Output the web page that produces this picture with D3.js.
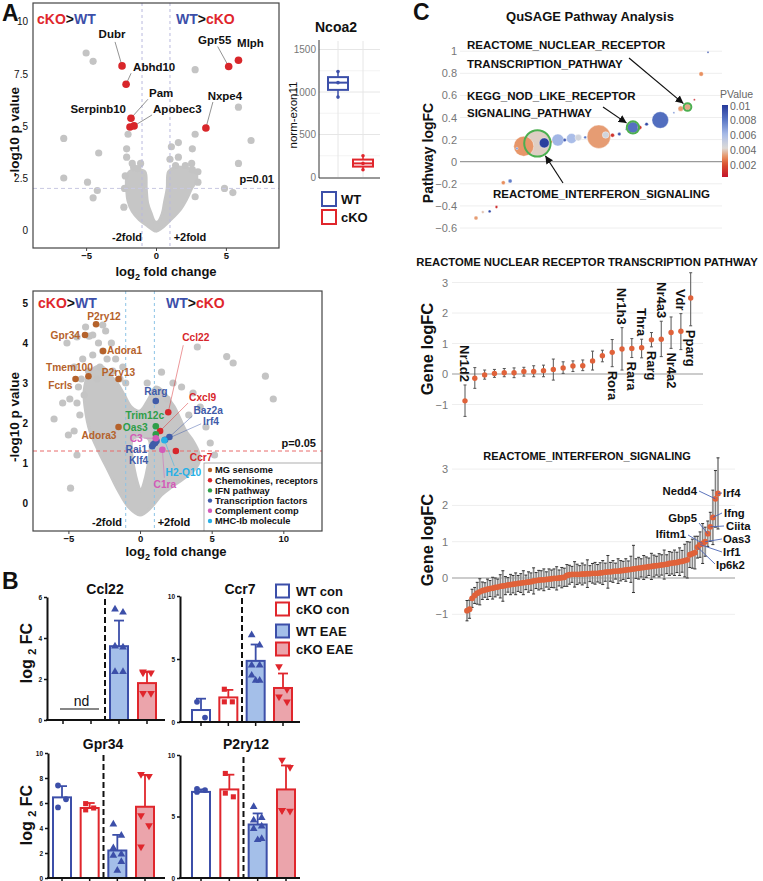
<!DOCTYPE html>
<html>
<head>
<meta charset="utf-8">
<script src="https://cdn.jsdelivr.net/npm/d3@7/dist/d3.min.js"></script>
<style>
html,body{margin:0;padding:0;background:#fff;}
svg text{font-family:"Liberation Sans",Arial,Helvetica,sans-serif;}
</style>
</head>
<body>
<svg id="fig" width="763" height="881" xmlns="http://www.w3.org/2000/svg"></svg>
<script>
// ================= DATA =================
// Panel A (top) volcano: cKO vs WT
const topHitGenes = ['Dubr','Abhd10','Pam','Serpinb10','Apobec3','Gpr55','Mlph','Nxpe4'];
const topHitLFC   = [-2.43,-2.14,-1.79,-1.86,-1.57,5.2,5.9,3.57];
const topHitP     = [7.88,7.0,5.37,4.95,5.0,7.85,8.15,4.9];
const topScatter = [[-5.0,8.5],[-4.5,8.1],[2.8,7.7],[5.9,5.9],[-6.6,4.4],[-4.1,3.7],[-6.6,2.5],[-4.9,2.3],[-4.2,1.9],[-4.5,1.55],[-2.3,1.1],[6.8,4.3],[5.9,3.2],[5.5,1.8],[4.9,2.0],[2.8,4.6],[2.6,3.9],[1.6,4.2],[1.1,4.0],[-2.0,4.6],[-2.1,3.9],[-2.1,3.5],[-1.1,3.2],[-1.7,3.2],[1.0,3.4],[1.6,3.5],[3.0,2.8],[2.6,2.9],[2.55,3.2],[-1.6,3.0],[-2.2,2.6],[-2.25,2.0],[3.0,2.3],[2.8,1.6],[-1.3,2.95],[1.4,3.1],[2.1,3.1]];
const topCloud = [[0,-0.05],[-0.6,0.2],[-1.2,0.5],[-1.7,0.9],[-2.0,1.4],[-2.1,2.0],[-2.1,2.5],[-1.9,2.8],[-1.3,2.9],[-0.8,2.8],[-0.7,2.0],[-0.6,1.3],[-0.35,0.8],[-0.08,0.4],[0.15,0.4],[0.45,0.8],[0.6,1.3],[0.8,2.0],[0.9,2.8],[1.3,3.0],[2.0,3.0],[2.8,2.8],[2.9,2.4],[2.55,2.0],[2.2,1.5],[1.75,1.0],[1.05,0.5],[0.4,0.1]];
const topXTicks = [-5,0,5];
const topYTicks = [0,2.5,5,7.5,10];

// Ncoa2 box plot
const ncoaGroups = ['WT','cKO'];
const ncoaWT = [1240,1110,940];
const ncoaKO = [250,160,85];
const ncoaTicks = [0,500,1000,1500];

// Panel A (bottom) volcano
const botCategories = ['MG sensome','Chemokines, receptors','IFN pathway','Transcription factors','Complement comp','MHC-Ib molecule'];
const botHitGenes = ['P2ry12','Gpr34','Adora1','Tmem100','P2ry13','Fcrls','Adora3','Ccl22','Cxcl9','Ccr7','Trim12c','Oas3','Rarg','Baz2a','Irf4','Rai1','Klf4','','','C3','C1ra','H2-Q10'];
const botHitLFC = [-3.07,-3.84,-2.58,-3.6,-1.5,-4.5,-1.5,1.97,1.4,2.5,1.1,1.1,1.1,2.05,1.75,1.05,0.85,0.93,1.15,1.1,1.56,1.7];
const botHitP   = [4.47,4.2,3.8,3.17,3.1,3.1,1.9,2.27,1.8,1.3,1.92,1.72,2.55,1.65,1.58,1.5,1.42,1.47,1.55,1.62,1.33,1.57];
const botHitCat = [0,0,0,0,0,0,0,1,1,1,2,2,3,3,3,3,3,3,3,4,4,5];
const botScatter = [[-5.1,4.0],[-4.4,4.15],[-3.55,4.17],[-2.9,4.0],[-6.0,2.1],[-4.85,0.37],[-4.9,2.6],[-4.6,3.4],[-4.3,2.9],[-4.0,3.6],[-3.3,3.7],[-2.4,4.3],[-2.0,4.0],[-1.7,3.6],[-1.2,3.4],[-3.8,4.4],[-2.8,3.4],[6.05,3.66],[6.5,3.5],[8.75,3.17],[9.3,2.6],[4.0,3.9],[1.5,3.27],[3.7,2.75],[2.9,2.9],[4.2,2.4],[3.4,2.2],[4.6,1.9],[-4.2,2.2],[-4.6,1.8],[-1.0,3.0],[0.5,3.0],[2.3,3.0],[1.9,2.6],[-5.4,2.5],[-4.4,2.5],[-3.3,4.2],[-2.6,4.45],[4.9,1.5],[5.2,1.2],[-4.4,1.2],[-5.0,1.7],[-3.6,3.3],[-3.0,3.1],[-2.3,3.6],[-1.9,3.3],[-4.1,3.1],[-3.9,2.7],[-2.6,3.8],[-1.4,3.1]];
const botCloud = [[0,-0.3],[-0.8,-0.1],[-1.5,0.3],[-2.2,0.8],[-2.9,1.3],[-3.5,1.8],[-3.8,2.3],[-3.9,2.8],[-3.6,3.2],[-3.1,3.4],[-2.6,3.4],[-2.1,3.2],[-1.6,3.0],[-1.1,2.7],[-0.6,2.4],[0.0,2.3],[0.6,2.6],[1.1,2.9],[1.6,2.8],[2.0,2.6],[2.4,2.4],[2.8,2.1],[3.2,1.8],[3.7,1.55],[4.1,1.25],[4.1,1.0],[3.7,0.8],[3.0,0.6],[2.2,0.4],[1.5,0.2],[0.8,-0.1]];
const botHole = [[0.05,0.3],[-0.5,1.6],[0.6,1.6]];
const botXTicks = [-5,0,5,10];
const botYTicks = [0,1,2,3,4,5];

// Panel B bar charts
const bGroups = ['WT con','cKO con','WT EAE','cKO EAE'];
const ccl22Mean = [null,null,3.6,1.8];
const ccl22SD   = [null,null,1.25,0.55];
const ccl22Pts  = [[],[],[5.4,5.25,3.6,3.55,2.35,2.35],[2.35,2.3,2.3,1.3,1.3]];
const ccr7Mean = [0.95,1.95,4.85,2.7];
const ccr7SD   = [0.9,0.6,1.3,1.15];
const ccr7Pts  = [[1.6,0.35],[2.6,1.6,1.6],[6.9,6.1,4.5,4.5,3.7,3.3,3.3],[4.4,2.6,2.0,1.6]];
const gpr34Mean = [6.45,5.6,2.2,5.7];
const gpr34SD   = [0.9,0.4,1.25,2.55];
const gpr34Pts  = [[7.4,6.3,5.65],[5.95,5.6,5.45],[4.3,3.4,2.4,1.9,1.8,1.3,0.6],[8.3,8.15,5.0,4.2,2.5]];
const p2ry12Mean = [7.0,7.2,4.35,7.2];
const p2ry12SD   = [0.2,1.2,0.9,1.95];
const p2ry12Pts  = [[7.25,7.15,7.0],[8.5,6.6,6.9],[5.8,4.9,4.7,4.2,4.0,3.2,3.1],[9.6,9.0,5.5,5.45,5.5]];

// Panel C: QuSAGE pathway bubbles
const pwRank  = [0,1,2,3,4,5,6,7,9,10,11,12,13,14,15,16,18,19,20,21,22,23,24,25,27,29,30,31,32,33,34];
const pwLogFC = [-0.51,-0.456,-0.45,-0.41,-0.19,-0.175,0.12,0.14,0.166,0.17,0.18,0.196,0.196,0.21,0.218,0.22,0.226,0.242,0.24,0.25,0.293,0.31,0.31,0.34,0.377,0.444,0.48,0.495,0.56,0.794,0.99];
const pwP     = [0.0032,0.0038,0.0095,0.001,0.003,0.0078,0.007,0.0031,0.004,0.0098,0.003,0.0062,0.0088,0.006,0.0046,0.008,0.0032,0.0046,0.0012,0.009,0.0072,0.0082,0.0012,0.0095,0.0083,0.007,0.0032,0.0034,0.0008,0.003,0.009];
const pwSize  = [4,2,2,2,4,4,1.5,100,161,25,2,36,3,25,11,2,137,11,4,3,1,32,4,3,69,1,7,11,1,5,1];
const pwHighlight = [8,21,27];
const pwTicks = [-0.6,-0.4,-0.2,0,0.2,0.4,0.6,0.8,1];
const pvTicks = [0.01,0.008,0.006,0.004,0.002];

// Nuclear receptor pathway genes
const nrLabels = ['Nr1d2','','','','','','','','','','','','','','','Rora','Nr1h3','Rara','Thra','Rarg','Nr4a3','Nr4a2','Vdr','Pparg'];
const nrFC = [-0.88,-0.14,-0.03,0.02,0.04,0.04,0.08,0.08,0.11,0.15,0.20,0.26,0.27,0.43,0.60,0.71,0.82,0.84,0.86,1.12,1.14,1.36,1.40,2.49];
const nrLo = [-1.39,-0.47,-0.17,-0.11,-0.09,-0.12,-0.07,-0.09,-0.09,-0.20,0.02,0.08,0.11,0.13,0.40,0.24,0.13,0.54,0.53,0.89,0.57,0.84,0.80,1.58];
const nrHi = [-0.36,0.21,0.13,0.15,0.18,0.20,0.22,0.27,0.29,0.49,0.40,0.43,0.46,0.75,0.78,1.13,1.52,1.16,1.14,1.36,1.73,1.87,1.98,3.32];
const nrSide = ['above','','','','','','','','','','','','','','','below','above','below','above','below','above','below','above','below'];
const nrTicks = [-1,0,1,2,3];

// Interferon signaling genes
const ifnFC = [
-0.90,-0.86,-0.56,-0.48,-0.42,-0.38,-0.35,-0.33,-0.31,-0.29,
-0.28,-0.26,-0.25,-0.23,-0.22,-0.21,-0.19,-0.18,-0.17,-0.16,
-0.15,-0.14,-0.13,-0.12,-0.11,-0.10,-0.08,-0.07,-0.06,-0.05,
-0.05,-0.04,-0.03,-0.02,-0.01,-0.01,0.00,0.01,0.02,0.07,
0.09,0.10,0.10,0.10,0.10,0.11,0.11,0.12,0.12,0.13,
0.13,0.13,0.14,0.15,0.16,0.17,0.17,0.18,0.19,0.19,
0.20,0.21,0.22,0.23,0.24,0.25,0.26,0.27,0.28,0.29,
0.30,0.31,0.32,0.33,0.34,0.35,0.36,0.37,0.38,0.40,
0.41,0.42,0.43,0.45,0.46,0.48,0.50,0.64,0.67,0.70,
0.85,0.92,0.95,1.00,1.22,1.41,1.67,2.18,2.33];
const ifnErr = [
0.28,0.25,0.25,0.22,0.30,0.36,0.24,0.20,0.28,0.22,
0.30,0.26,0.22,0.32,0.42,0.25,0.20,0.28,0.24,0.30,
0.22,0.26,0.33,0.20,0.28,0.24,0.36,0.22,0.27,0.25,
0.30,0.21,0.28,0.24,0.26,0.32,0.22,0.28,0.25,0.30,
0.26,0.22,0.35,0.28,0.24,0.30,0.25,0.38,0.22,0.27,
0.30,0.24,0.28,0.33,0.25,0.45,0.26,0.30,0.22,0.34,
0.28,0.25,0.31,0.24,0.36,0.65,0.27,0.30,0.25,0.33,
0.28,0.24,0.36,0.30,0.26,0.32,0.28,0.40,0.26,0.33,
0.30,0.35,0.28,0.38,0.30,0.45,0.50,0.35,0.40,0.45,
0.30,0.35,0.55,0.40,0.35,0.40,0.75,0.78,0.98];
const ifnLabelGenes = ['Ip6k2','Irf1','Ifitm1','Oas3','Gbp5','Ciita','Ifng','Nedd4','Irf4'];
const ifnLabelIdx   = [90,91,92,93,94,95,96,97,98];
const ifnTicks = [-1,0,1,2,3];

// ================= LAYOUT / STYLE =================
const RED = '#e0262c', BLUE = '#3c4fa9';
const catColors = ['#b5622b','#d7262b','#2e9e48','#3f5ba9','#d45ab8','#27b0e6'];
const topLabelPos = {
 Dubr:{dx:-10,dy:-28,a:'middle',lx:-7,ly:-24},
 Abhd10:{dx:7,dy:-13,a:'start',lx:5,ly:-11},
 Pam:{dx:18,dy:-21,a:'start',lx:17,ly:-19},
 Serpinb10:{dx:-4,dy:-14,a:'end'},
 Apobec3:{dx:19,dy:-13,a:'start',lx:18,ly:-11},
 Gpr55:{dx:-14,dy:-23,a:'middle',lx:-11,ly:-20},
 Mlph:{dx:12,dy:-13,a:'middle'},
 Nxpe4:{dx:19,dy:-28,a:'middle',lx:7,ly:-26}
};
const botLabelPos = {
 'P2ry12':{dx:8,dy:-4,a:'middle'},
 'Gpr34':{dx:-5,dy:4,a:'end'},
 'Adora1':{dx:4,dy:3,a:'start'},
 'Tmem100':{dx:-19,dy:-5,a:'middle'},
 'P2ry13':{dx:0,dy:-3,a:'middle'},
 'Fcrls':{dx:-3,dy:10,a:'end'},
 'Adora3':{dx:-2,dy:12,a:'end'},
 'Ccl22':{dx:14,dy:-71,a:'start',lx:15,ly:-67},
 'Cxcl9':{dx:29,dy:-30,a:'start',lx:28,ly:-28},
 'Ccr7':{dx:14,dy:10,a:'start'},
 'Trim12c':{dx:-11,dy:-7,a:'middle'},
 'Oas3':{dx:-8,dy:-3,a:'end'},
 'Rarg':{dx:0,dy:-6,a:'middle'},
 'Baz2a':{dx:24,dy:-23,a:'start',lx:23,ly:-21},
 'Irf4':{dx:38,dy:-15,a:'start',lx:36,ly:-16},
 'Rai1':{dx:-8,dy:10,a:'end'},
 'Klf4':{dx:-4,dy:18,a:'end'},
 'C3':{dx:-13,dy:4,a:'end',lx:-12,ly:0},
 'C1ra':{dx:2.5,dy:38,a:'middle',lx:2,ly:28},
 'H2-Q10':{dx:19,dy:36,a:'middle',lx:10,ly:26}
};
const ifnLabelPos = [
 {x:716,y:569,a:'start',lx:715,ly:564},
 {x:723,y:556,a:'start',lx:722,ly:552},
 {x:686,y:538,a:'end',lx:688,ly:535},
 {x:723,y:543,a:'start',lx:722,ly:539},
 {x:697,y:522,a:'end',lx:699,ly:523},
 {x:726,y:530,a:'start',lx:724,ly:526},
 {x:724,y:517,a:'start',lx:722,ly:513},
 {x:697,y:495,a:'end',lx:699,ly:491},
 {x:723,y:497,a:'start',lx:722,ly:493}
];
const jit = [-4,4,-4,4,-4,4,0,0];
const fmt = d3.format('~g');

// ================= DRAW =================
const svg = d3.select('#fig');
const defs = svg.append('defs');

function txt(g, x, y, s, o = {}) {
  const t = g.append('text').attr('x', x).attr('y', y)
    .attr('font-size', o.size || 11)
    .attr('font-weight', o.weight || 'bold')
    .attr('fill', o.fill || '#111')
    .attr('text-anchor', o.anchor || 'start');
  if (o.transform) t.attr('transform', o.transform);
  if (o.dy) t.attr('dy', o.dy);
  if (s !== null) t.text(s);
  return t;
}
function koWT(g, x, y, first, size) {
  const t = txt(g, x, y, null, {size});
  const parts = first === 'cKO' ? [['cKO',RED],['>','#111'],['WT',BLUE]] : [['WT',BLUE],['>','#111'],['cKO',RED]];
  parts.forEach(p => t.append('tspan').text(p[0]).attr('fill', p[1]));
}
function log2Title(g, x, y, size, rest, rot) {
  const t = txt(g, x, y, null, {size, anchor:'middle', transform: rot});
  t.append('tspan').text('log');
  t.append('tspan').text('2').attr('font-size', size*0.7).attr('dy', size*0.3);
  t.append('tspan').text(rest).attr('dy', -size*0.3);
}

// Panel letters
txt(svg, 2, 21, 'A', {size:23});
txt(svg, 2, 589, 'B', {size:23});
txt(svg, 413, 20, 'C', {size:23});

// ---------- Volcano ----------
function volcano(o) {
  const g = svg.append('g');
  const x = d3.scaleLinear().domain(o.xDom).range([o.L, o.R]);
  const y = d3.scaleLinear().domain(o.yDom).range([o.B, o.T]);
  defs.append('clipPath').attr('id', o.id).append('rect')
    .attr('x', o.L).attr('y', o.T).attr('width', o.R - o.L).attr('height', o.B - o.T);
  const inner = g.append('g').attr('clip-path', `url(#${o.id})`);
  const poly = d3.line().x(d => x(d[0])).y(d => y(d[1])).curve(d3.curveCatmullRomClosed.alpha(0.5));
  inner.append('path').attr('d', poly(o.cloud) + (o.hole ? poly(o.hole) : ''))
    .attr('fill', '#c6c6c6').attr('fill-rule', 'evenodd')
    .attr('stroke', '#c6c6c6').attr('stroke-width', 3).attr('stroke-linejoin', 'round');
  inner.selectAll('circle.sc').data(o.scatter).join('circle').attr('class','sc')
    .attr('cx', d => x(d[0])).attr('cy', d => y(d[1])).attr('r', 3.6).attr('fill', '#c4c4c4');
  o.vlines.forEach(v => inner.append('line').attr('x1', x(v)).attr('x2', x(v)).attr('y1', o.T).attr('y2', o.B)
    .attr('stroke', o.vcol).attr('stroke-width', 1).attr('stroke-dasharray', '3,3'));
  inner.append('line').attr('x1', o.L).attr('x2', o.R).attr('y1', y(o.hline)).attr('y2', y(o.hline))
    .attr('stroke', o.hcol).attr('stroke-width', 1).attr('stroke-dasharray', '4,3');
  g.append('rect').attr('x', o.L).attr('y', o.T).attr('width', o.R - o.L).attr('height', o.B - o.T)
    .attr('fill', 'none').attr('stroke', '#444').attr('stroke-width', 1.2);
  const ax = d3.axisBottom(x).tickValues(o.xTicks).tickSize(3).tickPadding(1).tickSizeOuter(0).tickFormat(fmt);
  const axg = g.append('g').attr('transform', `translate(0,${o.B})`).call(ax);
  axg.select('.domain').remove();
  axg.selectAll('text').attr('font-size', 9.5).attr('font-weight', 'bold').attr('fill', '#111');
  axg.selectAll('line').attr('stroke', '#444');
  const ay = d3.axisLeft(y).tickValues(o.yTicks).tickSize(0).tickPadding(5).tickFormat(fmt);
  const ayg = g.append('g').attr('transform', `translate(${o.L},0)`).call(ay);
  ayg.select('.domain').remove();
  ayg.selectAll('text').attr('font-size', 10).attr('font-weight', o.yBold ? 'bold' : 'normal').attr('fill', '#111');
  return {g, inner, x, y};
}

// ---- top volcano ----
const vt = volcano({id:'clipTop', L:33, R:279, T:3, B:248, xDom:[-8.8,8.8], yDom:[-0.86,10.9],
  cloud: topCloud, scatter: topScatter, vlines:[-1,1], vcol:'#b9b9de', hline:2, hcol:'#c9c9e2',
  xTicks: topXTicks, yTicks: topYTicks, yBold:false});
topHitGenes.forEach((gname, i) => {
  const px = vt.x(topHitLFC[i]), py = vt.y(topHitP[i]);
  const L = topLabelPos[gname];
  if (L.lx !== undefined) vt.g.append('line').attr('x1', px).attr('y1', py).attr('x2', px + L.lx).attr('y2', py + L.ly)
    .attr('stroke', '#777').attr('stroke-width', 0.8);
  vt.g.append('circle').attr('cx', px).attr('cy', py).attr('r', 3.8).attr('fill', '#d8262a');
  txt(vt.g, px + L.dx, py + L.dy, gname, {size:11.5, anchor:L.a});
});
koWT(vt.g, 37, 24, 'cKO', 14);
koWT(vt.g, 176, 24, 'WT', 14);
txt(vt.g, 274, 183, 'p=0.01', {size:11, anchor:'end'});
txt(vt.g, 127, 241, '-2fold', {size:11, anchor:'middle'});
txt(vt.g, 190, 241, '+2fold', {size:11, anchor:'middle'});
log2Title(svg, 166, 276, 13, ' fold change');
txt(svg, 19, 132, '-log10 p value', {size:13.5, anchor:'middle', transform:'rotate(-90,19,132)'});

// ---------- Ncoa2 box plot ----------
(function(){
  const g = svg.append('g');
  const y = d3.scaleLinear().domain([0,1600]).range([177,41]);
  const x = d3.scalePoint().domain(ncoaGroups).range([338,363]);
  [250,750,1250].forEach(v => g.append('line').attr('x1',319).attr('x2',380).attr('y1',y(v)).attr('y2',y(v)).attr('stroke','#f3f3f3'));
  ncoaTicks.slice(1).forEach(v => g.append('line').attr('x1',319).attr('x2',380).attr('y1',y(v)).attr('y2',y(v)).attr('stroke','#e6e6e6'));
  ncoaGroups.forEach(k => g.append('line').attr('x1',x(k)).attr('x2',x(k)).attr('y1',41).attr('y2',177).attr('stroke','#e6e6e6'));
  g.append('line').attr('x1',319).attr('x2',319).attr('y1',40).attr('y2',178).attr('stroke','#333').attr('stroke-width',1);
  g.append('line').attr('x1',319).attr('x2',380).attr('y1',178).attr('y2',178).attr('stroke','#333').attr('stroke-width',1);
  ncoaTicks.forEach(v => txt(g, 316, y(v)+3.5, String(v), {size:10, weight:'normal', fill:'#777', anchor:'end'}));
  [[ncoaWT, BLUE], [ncoaKO, RED]].forEach((d, i) => {
    const vals = d[0].slice().sort(d3.ascending), col = d[1], cx = x(ncoaGroups[i]);
    const q1 = d3.quantile(vals,0.25), med = d3.quantile(vals,0.5), q3 = d3.quantile(vals,0.75);
    g.append('line').attr('x1',cx).attr('x2',cx).attr('y1',y(d3.min(vals))).attr('y2',y(d3.max(vals))).attr('stroke',col).attr('stroke-width',1.5);
    g.append('rect').attr('x',cx-10).attr('y',y(q3)).attr('width',20).attr('height',y(q1)-y(q3)).attr('fill','#fff').attr('stroke',col).attr('stroke-width',2);
    g.append('line').attr('x1',cx-10).attr('x2',cx+10).attr('y1',y(med)).attr('y2',y(med)).attr('stroke',col).attr('stroke-width',2);
    vals.forEach(v => g.append('circle').attr('cx',cx).attr('cy',y(v)).attr('r',1.8).attr('fill',col));
  });
  txt(g, 297, 115, 'norm-exon11', {size:11.5, weight:'normal', anchor:'middle', transform:'rotate(-90,297,115)'});
  txt(g, 336, 32, 'Ncoa2', {size:14, anchor:'middle'});
  [['WT',BLUE,192],['cKO',RED,210]].forEach(l => {
    g.append('rect').attr('x',322).attr('y',l[2]).attr('width',14).attr('height',14).attr('fill','#fff').attr('stroke',l[1]).attr('stroke-width',2);
    txt(g, 341, l[2]+12, l[0], {size:13});
  });
})();

// ---- bottom volcano ----
const vb = volcano({id:'clipBot', L:33, R:322, T:291, B:531, xDom:[-7.47,12.7], yDom:[-0.7,5.3],
  cloud: botCloud, hole: botHole, scatter: botScatter, vlines:[-1,1], vcol:'#8cc3e6', hline:1.3, hcol:'#e86a6a',
  xTicks: botXTicks, yTicks: botYTicks, yBold:true});
const botOrder = d3.range(botHitGenes.length).sort((a,b) => (botHitCat[a]===3?0:1) - (botHitCat[b]===3?0:1));
botOrder.forEach(i => {
  const gname = botHitGenes[i]; if (!gname) return;
  const L = botLabelPos[gname]; if (L.lx === undefined) return;
  const px = vb.x(botHitLFC[i]), py = vb.y(botHitP[i]);
  vb.inner.append('line').attr('x1',px).attr('y1',py).attr('x2',px+L.lx).attr('y2',py+L.ly)
    .attr('stroke', catColors[botHitCat[i]]).attr('stroke-opacity',0.6).attr('stroke-width',0.8);
});
botOrder.forEach(i => {
  vb.inner.append('circle').attr('cx', vb.x(botHitLFC[i])).attr('cy', vb.y(botHitP[i])).attr('r', 3.3).attr('fill', catColors[botHitCat[i]]);
});
botOrder.forEach(i => {
  const gname = botHitGenes[i]; if (!gname) return;
  const L = botLabelPos[gname];
  txt(vb.g, vb.x(botHitLFC[i]) + L.dx, vb.y(botHitP[i]) + L.dy, gname, {size:10.2, anchor:L.a, fill:catColors[botHitCat[i]]});
});
koWT(vb.g, 38, 308, 'cKO', 14);
koWT(vb.g, 166, 308, 'WT', 14);
txt(vb.g, 316, 447, 'p=0.05', {size:11, anchor:'end'});
txt(vb.g, 107, 526, '-2fold', {size:11, anchor:'middle'});
txt(vb.g, 174, 526, '+2fold', {size:11, anchor:'middle'});
(function(){
  const lg = vb.inner.append('g');
  lg.append('rect').attr('x',204).attr('y',463).attr('width',130).attr('height',80).attr('fill','#fff').attr('stroke','#999').attr('stroke-width',0.8);
  botCategories.forEach((c, i) => {
    const yy = 470 + i*10.2;
    lg.append('circle').attr('cx',210).attr('cy',yy).attr('r',2.2).attr('fill',catColors[i]);
    txt(lg, 215, yy+3.3, c, {size:9.3});
  });
})();
log2Title(svg, 176, 556, 13, ' fold change');
txt(svg, 19, 417, '-log10 p value', {size:13.5, anchor:'middle', transform:'rotate(-90,19,417)'});

// ---------- Panel B bars ----------
const bColors = [BLUE, RED, BLUE, RED];
const bFills = ['#ffffff','#ffffff','#a4bfe9','#eba4ab'];
const bSymbols = [d3.symbolCircle, d3.symbolSquare, d3.symbolTriangle, d3.symbolTriangle];
function barPlot(o) {
  const g = svg.append('g');
  const y = d3.scaleLinear().domain([0, o.ymax]).range([o.B, o.T]);
  const x = d3.scalePoint().domain(bGroups).range(o.xr);
  const bw = 18;
  const dxl = (x(bGroups[1]) + x(bGroups[2])) / 2;
  g.append('line').attr('x1',dxl).attr('x2',dxl).attr('y1',o.T+2).attr('y2',o.B)
    .attr('stroke','#111').attr('stroke-width',2).attr('stroke-dasharray','6,3');
  bGroups.forEach((grp, i) => {
    if (o.mean[i] == null) return;
    const cx = x(grp), col = bColors[i];
    const top = y(o.mean[i] + o.sd[i]);
    g.append('line').attr('x1',cx).attr('x2',cx).attr('y1',y(o.mean[i])).attr('y2',top).attr('stroke',col).attr('stroke-width',1.8);
    g.append('line').attr('x1',cx-5).attr('x2',cx+5).attr('y1',top).attr('y2',top).attr('stroke',col).attr('stroke-width',1.8);
    g.append('rect').attr('x',cx-bw/2).attr('y',y(o.mean[i])).attr('width',bw).attr('height',o.B-y(o.mean[i]))
      .attr('fill',bFills[i]).attr('stroke',col).attr('stroke-width',2);
    o.pts[i].forEach((v, j) => {
      g.append('path').attr('d', d3.symbol().type(bSymbols[i]).size(26)())
        .attr('transform', `translate(${cx + jit[j]},${y(v)})` + (i === 3 ? ' rotate(180)' : ''))
        .attr('fill', col);
    });
  });
  if (o.nd) {
    const x0 = x(bGroups[0]) - 3, x1 = x(bGroups[1]) + 8;
    g.append('line').attr('x1',x0).attr('x2',x1).attr('y1',o.B-11).attr('y2',o.B-11).attr('stroke','#111').attr('stroke-width',1.2);
    txt(g, (x0+x1)/2 + 2, o.B-14, 'nd', {size:14, weight:'normal', anchor:'middle'});
  }
  const ay = d3.axisLeft(y).tickValues(o.ticks).tickSize(3).tickPadding(2).tickSizeOuter(0).tickFormat(fmt);
  const ayg = g.append('g').attr('transform', `translate(${o.L},0)`).call(ay);
  ayg.select('.domain').attr('stroke','#111').attr('stroke-width',2);
  ayg.selectAll('line').attr('stroke','#111').attr('stroke-width',1.5);
  ayg.selectAll('text').attr('font-size',6.5).attr('font-weight','bold').attr('fill','#111');
  g.append('line').attr('x1',o.L-1).attr('x2',o.R).attr('y1',o.B).attr('y2',o.B).attr('stroke','#111').attr('stroke-width',2);
  bGroups.forEach(grp => g.append('line').attr('x1',x(grp)).attr('x2',x(grp)).attr('y1',o.B).attr('y2',o.B+4).attr('stroke','#111').attr('stroke-width',1.5));
  txt(g, o.tx, o.ty, o.title, {size:14, anchor:'middle'});
}
barPlot({title:'Ccl22', tx:105, ty:594, L:47, R:165, T:597, B:720, ymax:6, ticks:[0,2,4,6], xr:[63,147], mean:ccl22Mean, sd:ccl22SD, pts:ccl22Pts, nd:true});
barPlot({title:'Ccr7', tx:240, ty:594, L:180, R:300, T:596, B:722, ymax:10, ticks:[0,5,10], xr:[201,283], mean:ccr7Mean, sd:ccr7SD, pts:ccr7Pts});
barPlot({title:'Gpr34', tx:103, ty:749, L:48, R:165, T:753, B:878, ymax:10, ticks:[0,2,4,6,8,10], xr:[62,145], mean:gpr34Mean, sd:gpr34SD, pts:gpr34Pts});
barPlot({title:'P2ry12', tx:246, ty:749, L:180, R:300, T:755, B:878, ymax:10, ticks:[0,5,10], xr:[201,286], mean:p2ry12Mean, sd:p2ry12SD, pts:p2ry12Pts});
(function(){
  const rows = [591, 609, 631, 649];
  bGroups.forEach((grp, i) => {
    svg.append('rect').attr('x',276).attr('y',rows[i]-6.5).attr('width',13).attr('height',13)
      .attr('fill',bFills[i]).attr('stroke',bColors[i]).attr('stroke-width',2);
    txt(svg, 296, rows[i]+5, grp, {size:13});
  });
})();
[[32,653],[32,815]].forEach(p => {
  const t = txt(svg, p[0], p[1], null, {size:16, anchor:'middle', transform:`rotate(-90,${p[0]},${p[1]})`});
  t.append('tspan').text('log ');
  t.append('tspan').text('2').attr('font-size',11).attr('dy',4);
  t.append('tspan').text(' FC').attr('dy',-4);
});

// ---------- Panel C: bubbles ----------
const pColor = d3.scaleLinear().domain([0.0003,0.002,0.003,0.0042,0.006,0.008,0.01])
  .range(['#c4142b','#d9512f','#e8905f','#dcdad8','#aabde8','#5a77c6','#25399a']);
(function(){
  const g = svg.append('g');
  const x = d3.scaleLinear().domain([0,34]).range([476,708]);
  const y = d3.scaleLinear().domain([-0.6,1]).range([228,51.2]);
  const r = d3.scaleSqrt().domain([0,161]).range([0,12.7]);
  pwTicks.forEach(v => {
    g.append('line').attr('x1',460).attr('x2',722).attr('y1',y(v)).attr('y2',y(v))
      .attr('stroke', v === 0 ? '#9a9a9a' : '#eeeeee').attr('stroke-width', v === 0 ? 1.2 : 1);
    txt(g, 457, y(v)+4, fmt(v), {size:11, weight:'normal', fill:'#777', anchor:'end'});
  });
  const order = d3.range(pwRank.length).sort((a,b) => pwSize[b] - pwSize[a]);
  order.forEach(i => {
    g.append('circle').attr('cx',x(pwRank[i])).attr('cy',y(pwLogFC[i])).attr('r',r(pwSize[i]))
      .attr('fill',pColor(pwP[i])).attr('stroke','#fff').attr('stroke-width',0.4);
  });
  pwHighlight.forEach(i => {
    g.append('circle').attr('cx',x(pwRank[i])).attr('cy',y(pwLogFC[i])).attr('r',r(pwSize[i])+0.5)
      .attr('fill','none').attr('stroke','#4caf50').attr('stroke-width',2);
  });
  defs.append('marker').attr('id','arr').attr('viewBox','0 0 10 10').attr('refX',10).attr('refY',5)
    .attr('markerWidth',8).attr('markerHeight',8).attr('markerUnits','userSpaceOnUse').attr('orient','auto')
    .append('path').attr('d','M0,0 L10,5 L0,10 Z').attr('fill','#111');
  const ann = [
    {i:27, lines:['REACTOME_NUCLEAR_RECEPTOR','TRANSCRIPTION_PATHWAY'], tx:467, ty:[49,68], sx:629, sy:58},
    {i:21, lines:['KEGG_NOD_LIKE_RECEPTOR','SIGNALING_PATHWAY'], tx:467, ty:[100,117], sx:603, sy:107},
    {i:8, lines:['REACTOME_INTERFERON_SIGNALING'], tx:493, ty:[198], sx:563, sy:183}
  ];
  ann.forEach(a => {
    a.lines.forEach((s, k) => txt(g, a.tx, a.ty[k], s, {size:11.5}));
    const cx = x(pwRank[a.i]), cy = y(pwLogFC[a.i]), rr = r(pwSize[a.i]) + 2;
    const ang = Math.atan2(cy - a.sy, cx - a.sx);
    g.append('line').attr('x1',a.sx).attr('y1',a.sy).attr('x2',cx - rr*Math.cos(ang)).attr('y2',cy - rr*Math.sin(ang))
      .attr('stroke','#111').attr('stroke-width',1.2).attr('marker-end','url(#arr)');
  });
  txt(g, 590, 21, 'QuSAGE Pathway Analysis', {size:13, anchor:'middle'});
  txt(g, 433, 153, 'Pathway logFC', {size:14, anchor:'middle', transform:'rotate(-90,433,153)'});
  const grad = defs.append('linearGradient').attr('id','pgrad').attr('x1',0).attr('x2',0).attr('y1',1).attr('y2',0);
  d3.range(0,1.0001,0.05).forEach(f => grad.append('stop').attr('offset',f).attr('stop-color',pColor(0.0003 + f*(0.01-0.0003))));
  const cy = d3.scaleLinear().domain([0.0003,0.01]).range([177,105]);
  g.append('rect').attr('x',722).attr('y',105).attr('width',6).attr('height',72).attr('fill','url(#pgrad)');
  txt(g, 720, 98, 'PValue', {size:10.5, weight:'normal', fill:'#666'});
  pvTicks.forEach(v => txt(g, 730, cy(v)+4.5, String(v), {size:10.5, weight:'normal', fill:'#666'}));
})();

// ---------- Nuclear receptor dot plot ----------
(function(){
  const g = svg.append('g');
  const x = d3.scaleLinear().domain([0, nrFC.length-1]).range([465,690.7]);
  const y = d3.scaleLinear().domain([-1,3]).range([404.5,282.5]);
  nrTicks.forEach(v => {
    g.append('line').attr('x1',452).attr('x2',703).attr('y1',y(v)).attr('y2',y(v))
      .attr('stroke', v === 0 ? '#9a9a9a' : '#eeeeee').attr('stroke-width', v === 0 ? 1.2 : 1);
    txt(g, 448, y(v)+4, fmt(v), {size:11, weight:'normal', fill:'#777', anchor:'end'});
  });
  nrFC.forEach((v, i) => {
    const cx = x(i);
    g.append('line').attr('x1',cx).attr('x2',cx).attr('y1',y(nrLo[i])).attr('y2',y(nrHi[i])).attr('stroke','#555').attr('stroke-width',1);
    [nrLo[i], nrHi[i]].forEach(e => g.append('line').attr('x1',cx-1.5).attr('x2',cx+1.5).attr('y1',y(e)).attr('y2',y(e)).attr('stroke','#555').attr('stroke-width',1));
  });
  nrFC.forEach((v, i) => g.append('circle').attr('cx',x(i)).attr('cy',y(v)).attr('r',2.7).attr('fill','#e0623a'));
  nrLabels.forEach((s, i) => {
    if (!s) return;
    const cx = x(i);
    if (nrSide[i] === 'above') {
      txt(g, 0, 0, s, {size:13, anchor:'end', dy:'0.35em', transform:`translate(${cx},${y(nrHi[i]) - 3}) rotate(90)`});
    } else {
      txt(g, 0, 0, s, {size:13, anchor:'start', dy:'0.35em', transform:`translate(${cx},${y(nrLo[i]) + 4}) rotate(90)`});
    }
  });
  txt(g, 587, 266, 'REACTOME NUCLEAR RECEPTOR TRANSCRIPTION PATHWAY', {size:11.3, anchor:'middle'});
  txt(g, 433, 349, 'Gene logFC', {size:16.5, anchor:'middle', transform:'rotate(-90,433,349)'});
})();

// ---------- Interferon dot plot ----------
(function(){
  const g = svg.append('g');
  const x = d3.scaleLinear().domain([0, ifnFC.length-1]).range([467,718]);
  const y = d3.scaleLinear().domain([-1,3]).range([614.3,469.1]);
  ifnTicks.forEach(v => {
    g.append('line').attr('x1',452).attr('x2',735).attr('y1',y(v)).attr('y2',y(v))
      .attr('stroke', v === 0 ? '#9a9a9a' : '#eeeeee').attr('stroke-width', v === 0 ? 1.2 : 1);
    txt(g, 448, y(v)+4, fmt(v), {size:11, weight:'normal', fill:'#777', anchor:'end'});
  });
  ifnFC.forEach((v, i) => {
    const cx = x(i), lo = v - ifnErr[i], hi = v + ifnErr[i];
    g.append('rect').attr('x',cx-1).attr('y',y(hi)).attr('width',2).attr('height',y(lo)-y(hi)).attr('fill','#bdbdbd');
    g.append('line').attr('x1',cx).attr('x2',cx).attr('y1',y(lo)).attr('y2',y(hi)).attr('stroke','#555').attr('stroke-width',0.6);
    [lo, hi].forEach(e => g.append('line').attr('x1',cx-1.5).attr('x2',cx+1.5).attr('y1',y(e)).attr('y2',y(e)).attr('stroke','#333').attr('stroke-width',1));
  });
  ifnFC.forEach((v, i) => g.append('circle').attr('cx',x(i)).attr('cy',y(v)).attr('r',2.9).attr('fill','#e0623a'));
  ifnLabelGenes.forEach((s, k) => {
    const i = ifnLabelIdx[k], L = ifnLabelPos[k];
    g.append('line').attr('x1',x(i)).attr('y1',y(ifnFC[i])).attr('x2',L.lx).attr('y2',L.ly).attr('stroke','#4a64b4').attr('stroke-width',0.9);
    txt(g, L.x, L.y, s, {size:11.3, anchor:L.a});
  });
  txt(g, 587, 460, 'REACTOME_INTERFERON_SIGNALING', {size:11, anchor:'middle'});
  txt(g, 433, 540, 'Gene logFC', {size:16.5, anchor:'middle', transform:'rotate(-90,433,540)'});
})();
</script>
</body>
</html>
